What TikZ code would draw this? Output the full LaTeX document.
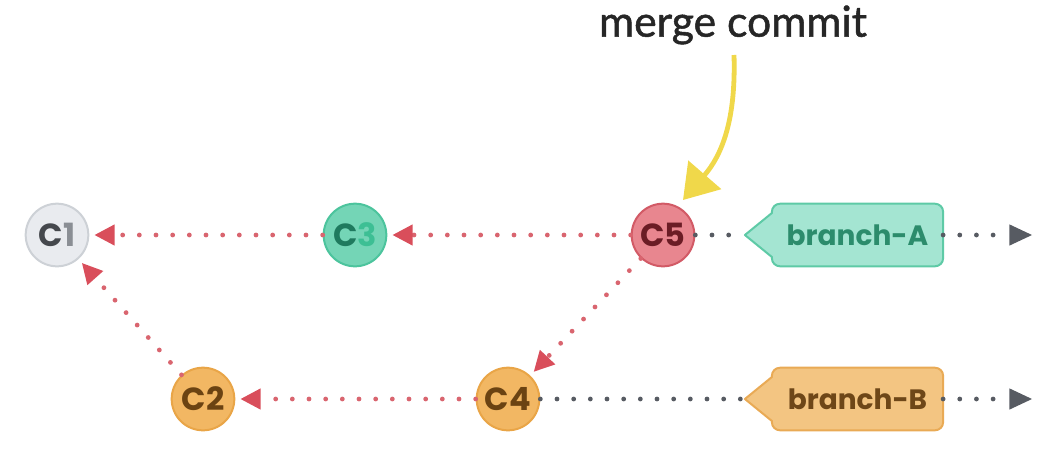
\documentclass[tikz,border=0pt]{standalone}
\usepackage{fontspec}
\usetikzlibrary{arrows.meta,calc}
\newfontfamily\popfont{Poppins}
\newfontfamily\latofont{Lato}[FakeBold=1.2]
\definecolor{cAfill}{HTML}{E9EBEF}\definecolor{cAdraw}{HTML}{CDD1D6}\definecolor{cAtext}{HTML}{45484D}\definecolor{cAnum}{HTML}{8A8E94}
\definecolor{gfill}{HTML}{74D5B6}\definecolor{gdraw}{HTML}{4CC49D}\definecolor{gtext}{HTML}{1F7A5E}\definecolor{gnum}{HTML}{3DBF94}
\definecolor{rfill}{HTML}{E8868F}\definecolor{rdraw}{HTML}{D25A66}\definecolor{rtext}{HTML}{6B1C25}
\definecolor{ofill}{HTML}{F2B763}\definecolor{odraw}{HTML}{E9A547}\definecolor{otext}{HTML}{6B4312}
\definecolor{tAfill}{HTML}{A4E5D2}\definecolor{tAdraw}{HTML}{5ECAA6}\definecolor{tAtext}{HTML}{2C8C6C}
\definecolor{tBfill}{HTML}{F3C582}\definecolor{tBdraw}{HTML}{E9AA55}\definecolor{tBtext}{HTML}{6E4718}
\definecolor{reddot}{HTML}{D9656F}\definecolor{redtip}{HTML}{D94E5B}
\definecolor{greydot}{HTML}{575B62}
\definecolor{yel}{HTML}{F0D84A}
\begin{document}
\begin{tikzpicture}[x=0.75pt,y=-0.75pt,
  commit/.style={circle,minimum size=47pt,inner sep=0pt,line width=1.5pt,
    font=\popfont\bfseries\fontsize{24}{24}\selectfont},
  tagbox/.style={minimum width=128pt,minimum height=46.5pt,inner sep=0pt},
  taglabel/.style={font=\popfont\bfseries\fontsize{21}{21}\selectfont},
  tagline/.style={line width=1.5pt,line join=round},
  reddots/.style={draw=reddot,line width=3.6pt,line cap=round,dash pattern=on 0pt off 12.5pt,
    -{Triangle[length=15pt,width=16pt,color=redtip,line width=0pt]},shorten >=4pt},
  greydots/.style={draw=greydot,line width=3.6pt,line cap=round,dash pattern=on 0pt off 12.5pt},
  greyarrow/.style={greydots,-{Triangle[length=17pt,width=16pt,color=greydot,line width=0pt]}},
  yarrow/.style={draw=yel,line width=3.6pt,-{Triangle[length=25pt,width=32pt]}}
]
\useasboundingbox (0,0) rectangle (1064,458);
% commits
\node[commit,fill=cAfill,draw=cAdraw] (C1) at (57,235) {\textcolor{cAtext}{C}\textcolor{cAnum}{1}};
\node[commit,fill=gfill,draw=gdraw] (C3) at (355,235) {\textcolor{gtext}{C}\textcolor{gnum}{3}};
\node[commit,fill=rfill,draw=rdraw] (C5) at (663,235) {\textcolor{rtext}{C5}};
\node[commit,fill=ofill,draw=odraw] (C2) at (203,399) {\textcolor{otext}{C2}};
\node[commit,fill=ofill,draw=odraw] (C4) at (508,399) {\textcolor{otext}{C4}};
% tags
\node[tagbox] (tagA) at (857.5,235) {};
\node[tagbox] (tagB) at (857.5,399) {};
\coordinate (tipA) at ($(tagA.west)+(-27,0)$);
\coordinate (tipB) at ($(tagB.west)+(-27,0)$);
\draw[tagline,fill=tAfill,draw=tAdraw] (tipA) -- ($(tagA.west)+(0,-22)$) [rounded corners=6pt] -- (tagA.north west) -- (tagA.north east) -- (tagA.south east) -- (tagA.south west) [sharp corners] -- ($(tagA.west)+(0,22)$) -- cycle;
\draw[tagline,fill=tBfill,draw=tBdraw] (tipB) -- ($(tagB.west)+(0,-22)$) [rounded corners=6pt] -- (tagB.north west) -- (tagB.north east) -- (tagB.south east) -- (tagB.south west) [sharp corners] -- ($(tagB.west)+(0,22)$) -- cycle;
\node[taglabel,text=tAtext] (labA) at (tagA.center) {branch-A};
\node[taglabel,text=tBtext] (labB) at (tagB.center) {branch-B};
\coordinate (endA) at (1032,235);
\coordinate (endB) at (1032,399);
% parent links
\draw[reddots] (C3) -- (C1);
\draw[reddots] (C5) -- (C3);
\draw[reddots] (C2) -- (C1);
\draw[reddots] (C4) -- (C2);
\draw[reddots] (C5) -- (C4);
% branch pointers
\draw[greydots] (C5) -- (tipA);
\draw[greydots] (C4) -- (tipB);
\draw[greyarrow] (tagA.east) -- (endA);
\draw[greyarrow] (tagB.east) -- (endB);
% merge commit label
\node[font=\latofont\fontsize{32}{32}\selectfont,text=black!85] (mc) at (733,25) {merge commit};
\coordinate (ys) at (734,55);
\coordinate (yt) at (683,200);
\draw[yarrow] (ys) .. controls (736,120) and (722,155) .. (yt);
\end{tikzpicture}
\end{document}
